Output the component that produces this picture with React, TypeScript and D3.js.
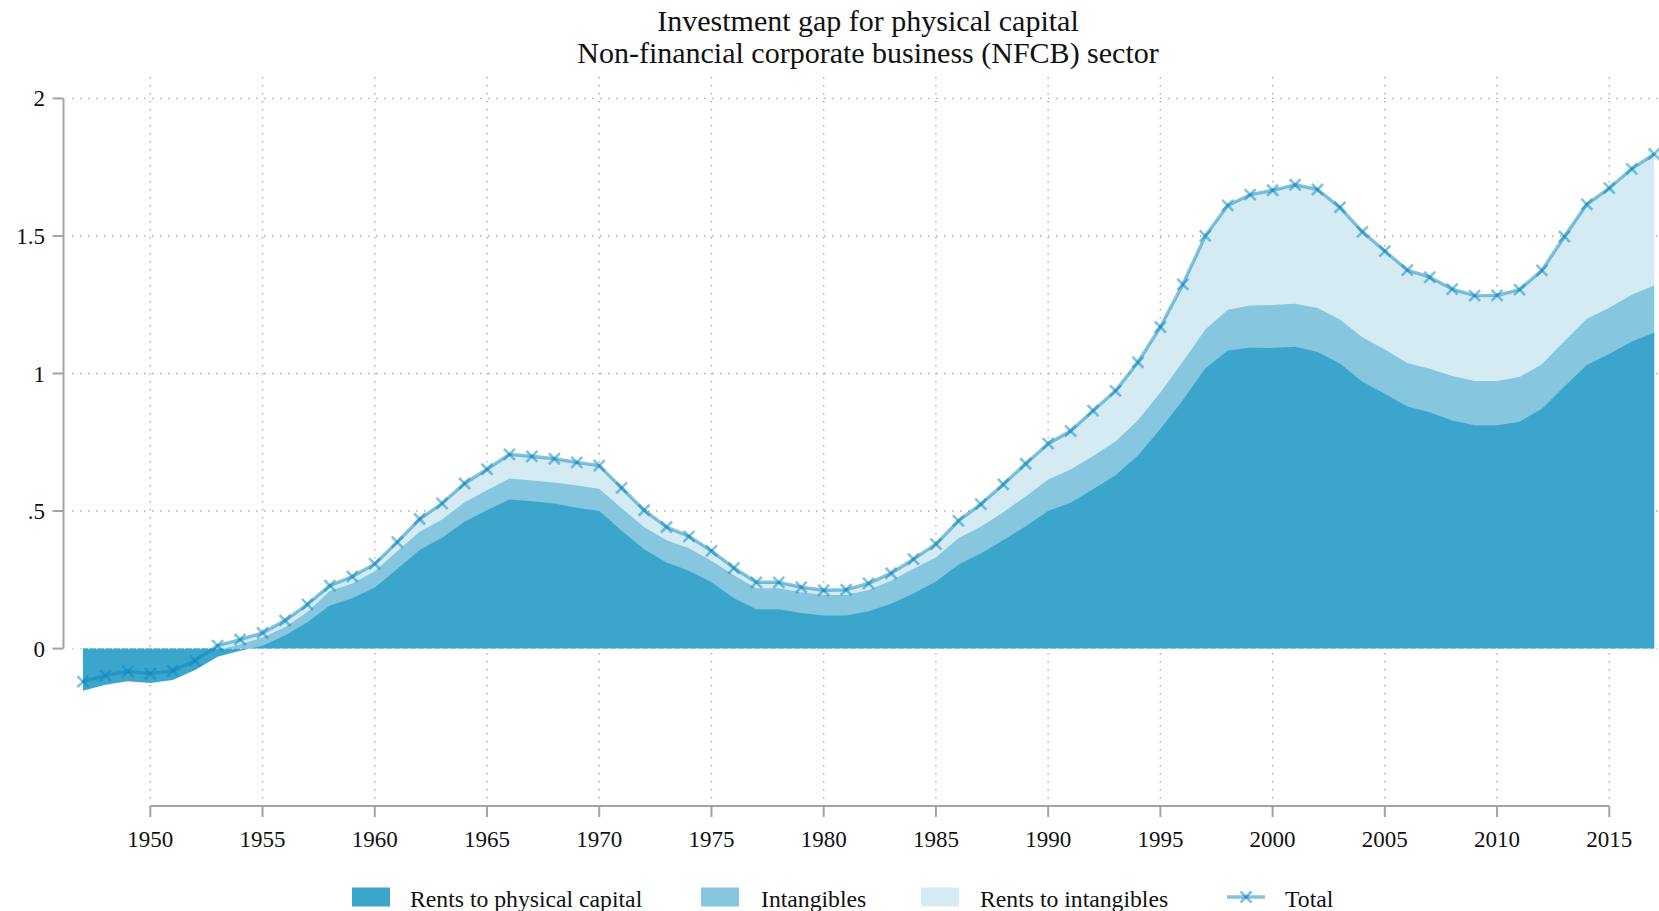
import React from "react";
import * as d3 from "d3";

const years: number[] = d3.range(1947, 2018);

const physical: number[] = [
  -0.153, -0.131, -0.119, -0.125, -0.114, -0.078, -0.03, -0.008, 0.01, 0.048,
  0.096, 0.157, 0.183, 0.222, 0.289, 0.358, 0.403, 0.461, 0.503, 0.542,
  0.536, 0.527, 0.512, 0.5, 0.428, 0.361, 0.313, 0.283, 0.241, 0.183,
  0.143, 0.143, 0.129, 0.12, 0.12, 0.136, 0.163, 0.2, 0.244, 0.305,
  0.346, 0.394, 0.445, 0.5, 0.53, 0.579, 0.63, 0.702, 0.798, 0.903,
  1.018, 1.084, 1.094, 1.093, 1.097, 1.078, 1.036, 0.97, 0.926, 0.88,
  0.859, 0.829, 0.812, 0.812, 0.825, 0.872, 0.953, 1.031, 1.071, 1.116,
  1.148,
];

const intangibles: number[] = [
  0.013, 0.013, 0.014, 0.015, 0.014, 0.016, 0.025, 0.023, 0.03, 0.03,
  0.037, 0.052, 0.054, 0.059, 0.065, 0.067, 0.066, 0.071, 0.073, 0.076,
  0.075, 0.077, 0.081, 0.081, 0.082, 0.081, 0.081, 0.082, 0.078, 0.084,
  0.076, 0.076, 0.076, 0.075, 0.075, 0.077, 0.084, 0.09, 0.087, 0.096,
  0.097, 0.102, 0.108, 0.115, 0.121, 0.121, 0.123, 0.128, 0.133, 0.14,
  0.142, 0.148, 0.153, 0.156, 0.157, 0.16, 0.16, 0.162, 0.161, 0.158,
  0.158, 0.162, 0.161, 0.161, 0.162, 0.162, 0.165, 0.168, 0.168, 0.17,
  0.172,
];

const rentsToIntangibles: number[] = [
  0.02, 0.02, 0.022, 0.019, 0.019, 0.018, 0.016, 0.018, 0.017, 0.024,
  0.028, 0.02, 0.025, 0.027, 0.033, 0.046, 0.059, 0.068, 0.076, 0.088,
  0.088, 0.086, 0.084, 0.084, 0.074, 0.061, 0.048, 0.043, 0.036, 0.026,
  0.022, 0.022, 0.018, 0.017, 0.019, 0.024, 0.027, 0.035, 0.049, 0.063,
  0.082, 0.101, 0.119, 0.13, 0.14, 0.165, 0.184, 0.211, 0.238, 0.281,
  0.34, 0.379, 0.403, 0.417, 0.432, 0.431, 0.408, 0.383, 0.358, 0.338,
  0.333, 0.316, 0.31, 0.311, 0.318, 0.341, 0.38, 0.416, 0.435, 0.458,
  0.478,
];

const xTicks: number[] = d3.range(1950, 2016, 5);
const yTicks: number[] = [0, 0.5, 1, 1.5, 2];
const yTickLabels: string[] = ["0", ".5", "1", "1.5", "2"];

const titleLines: string[] = [
  "Investment gap for physical capital",
  "Non-financial corporate business (NFCB) sector",
];
const legendLabels: string[] = [
  "Rents to physical capital",
  "Intangibles",
  "Rents to intangibles",
  "Total",
];

const W = 1659;
const H = 911;
const FONT = "'Liberation Serif', 'Times New Roman', serif";
const C_DARK = "#3ca5cc";
const C_MED = "#86c6df";
const C_LIGHT = "#d5ebf4";
const C_LINE = "#0a87be";
const LINE_OP = 0.5;
const AXIS = "#a3a3a3";
const GRID = "#aaaaaa";

export default function App() {
  const x = d3.scaleLinear().domain([1950, 2015]).range([150.3, 1609.3]);
  const y = d3.scaleLinear().domain([0, 2]).range([648.6, 98.4]);

  const rows = years.map((yr, i) => {
    const p = physical[i];
    const i2 = p + intangibles[i];
    const t = i2 + rentsToIntangibles[i];
    return { yr, p, i2, t };
  });

  const areaGen = (acc: (d: any) => number) =>
    d3
      .area<any>()
      .x((d) => x(d.yr))
      .y0(y(0))
      .y1((d) => y(acc(d)))(rows) || "";

  const lineGen = d3
    .line<any>()
    .x((d) => x(d.yr))
    .y((d) => y(d.t))(rows) || "";

  const plotTop = 77;
  const xAxisY = 806;
  const yAxisX = 63.5;
  const ms = 5.5;

  const renderX = (cx: number, cy: number, key: string) => (
    <g key={key}>
      <line x1={cx - ms} y1={cy - ms} x2={cx + ms} y2={cy + ms} stroke={C_LINE} strokeWidth={2.6} strokeOpacity={LINE_OP} />
      <line x1={cx - ms} y1={cy + ms} x2={cx + ms} y2={cy - ms} stroke={C_LINE} strokeWidth={2.6} strokeOpacity={LINE_OP} />
    </g>
  );

  const legendY = 897;
  const legendSw = [
    { sx: 352, tx: 410, color: C_DARK },
    { sx: 701, tx: 761, color: C_MED },
    { sx: 921, tx: 980, color: C_LIGHT },
  ];

  return (
    <svg
      width={W}
      height={H}
      style={{ position: "absolute", left: 0, top: 0, display: "block", background: "#fff" }}
      fontFamily={FONT}
    >
      <rect x={0} y={0} width={W} height={H} fill="#fff" />
      {/* title */}
      {titleLines.map((t, i) => (
        <text key={t} x={868} y={31 + i * 32} textAnchor="middle" fontSize={30} fill="#111">
          {t}
        </text>
      ))}

      {/* gridlines */}
      {yTicks.map((v) => (
        <line key={"hg" + v} x1={72} x2={W} y1={y(v)} y2={y(v)} stroke={GRID} strokeWidth={1.4} strokeDasharray="1.5,6.5" />
      ))}
      {xTicks.map((v) => (
        <line key={"vg" + v} x1={x(v)} x2={x(v)} y1={plotTop} y2={xAxisY - 4} stroke={GRID} strokeWidth={1.4} strokeDasharray="1.5,6.5" />
      ))}

      {/* areas */}
      <path d={areaGen((d) => d.t)} fill={C_LIGHT} />
      <path d={areaGen((d) => d.i2)} fill={C_MED} />
      <path d={areaGen((d) => d.p)} fill={C_DARK} />

      {/* zero gridline over areas */}
      <line x1={72} x2={W} y1={y(0)} y2={y(0)} stroke="#c8e3ee" strokeWidth={1.4} strokeDasharray="1.5,6.5" />

      {/* total line */}
      <path d={lineGen} fill="none" stroke={C_LINE} strokeWidth={3.4} strokeOpacity={LINE_OP} strokeLinejoin="round" />
      {rows.map((d) => renderX(x(d.yr), y(d.t), "m" + d.yr))}

      {/* y axis */}
      <line x1={yAxisX} x2={yAxisX} y1={y(0)} y2={y(2)} stroke={AXIS} strokeWidth={2} />
      {yTicks.map((v, i) => (
        <g key={"yt" + v}>
          <line x1={yAxisX - 11} x2={yAxisX} y1={y(v)} y2={y(v)} stroke={AXIS} strokeWidth={2} />
          <text x={45} y={y(v) + 8} textAnchor="end" fontSize={23} fill="#111">
            {yTickLabels[i]}
          </text>
        </g>
      ))}

      {/* x axis */}
      <line x1={x(1950)} x2={x(2015)} y1={xAxisY} y2={xAxisY} stroke={AXIS} strokeWidth={2} />
      {xTicks.map((v) => (
        <g key={"xt" + v}>
          <line x1={x(v)} x2={x(v)} y1={xAxisY} y2={xAxisY + 11} stroke={AXIS} strokeWidth={2} />
          <text x={x(v)} y={847} textAnchor="middle" fontSize={23} fill="#111">
            {v}
          </text>
        </g>
      ))}

      {/* legend */}
      {legendSw.map((s, i) => (
        <g key={"lg" + i}>
          <rect x={s.sx} y={legendY - 9.5} width={38} height={19} fill={s.color} />
          <text x={s.tx} y={legendY + 10} fontSize={23.7} fill="#111">
            {legendLabels[i]}
          </text>
        </g>
      ))}
      <g>
        <line x1={1227} x2={1265} y1={legendY} y2={legendY} stroke={C_LINE} strokeWidth={3.4} strokeOpacity={LINE_OP} />
        {renderX(1246, legendY, "lgm")}
        <text x={1285} y={legendY + 10} fontSize={23.7} fill="#111">
          {legendLabels[3]}
        </text>
      </g>
    </svg>
  );
}
